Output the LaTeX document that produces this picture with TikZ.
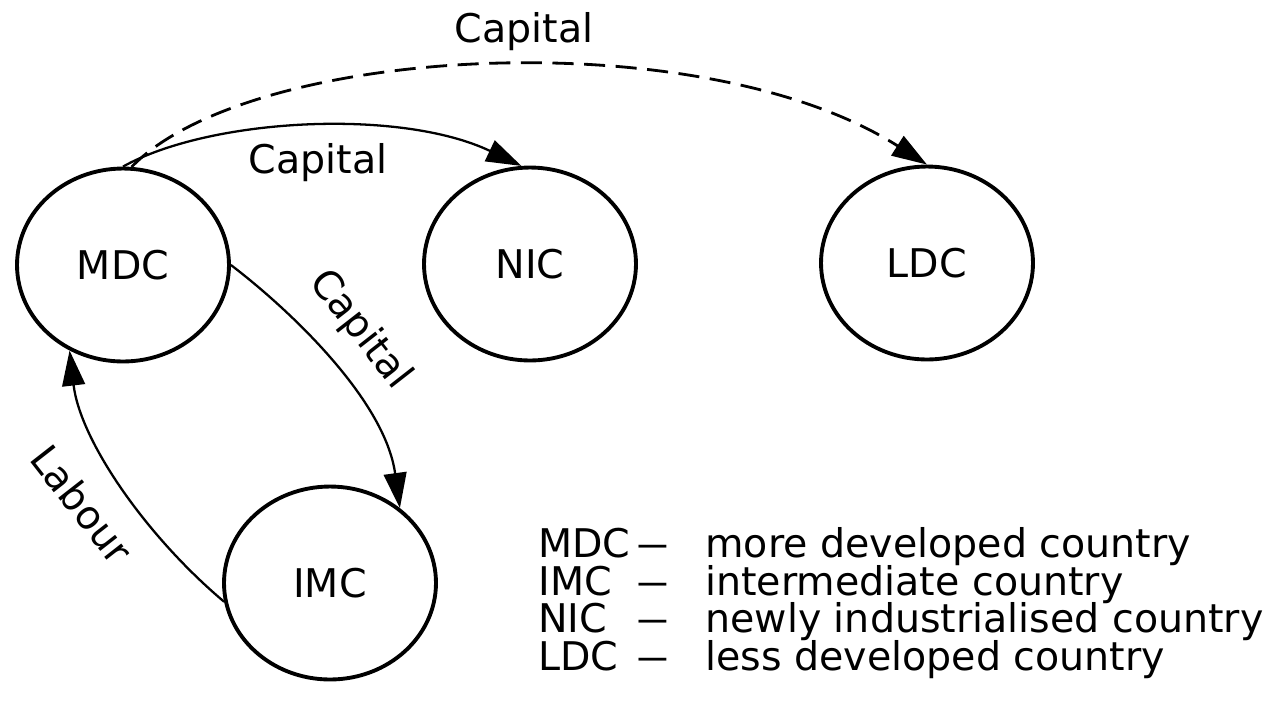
\documentclass[tikz,border=0pt]{standalone}
\usepackage{fontspec}
\usepackage{graphicx}
\setmainfont{DejaVu Sans}
\usetikzlibrary{arrows.meta,shapes.geometric}
\newcommand{\legdash}{\scalebox{0.78}[1]{—}}
\begin{document}
\begin{tikzpicture}[x=0.02cm,y=-0.02cm,
  txt/.style={font=\fontsize{22.5}{27}\selectfont},
  country/.style={ellipse,draw,line width=2.2pt,minimum width=4.24cm,minimum height=3.86cm,inner sep=0pt,txt},
  lbl/.style={txt,inner sep=0pt},
  flow/.style={line width=1.3pt,-{Triangle[length=20pt,width=13pt]}},
  dflow/.style={line width=1.6pt,dash pattern=on 12pt off 6pt,-{Triangle[length=20pt,width=13pt]}}]
\fill[white] (0,0) rectangle (1281,701);
\useasboundingbox (0,0) rectangle (1281,701);

% countries
\node[country] (MDC) at (123,265) {MDC};
\node[country] (NIC) at (530,264) {NIC};
\node[country] (LDC) at (927,263) {LDC};
\node[country] (IMC) at (330,583) {IMC};

% flows
\draw[flow] (MDC.north) .. controls (210,118) and (400,108) .. (NIC.95);
\draw[dflow] (MDC.85) .. controls (250,45) and (700,20) .. (LDC.north);
\draw[flow] (MDC.east) .. controls (290,310) and (385,400) .. (IMC.47);
\draw[flow] (IMC.190) .. controls (145,535) and (80,440) .. (MDC.238);

% labels
\node[lbl,anchor=base] (captop) at (524,42) {Capital};
\node[lbl,anchor=base] (capnic) at (318,173) {Capital};
\node[lbl,rotate=-52] (capimc) at (360,330) {Capital};
\node[lbl,rotate=-52] (labour) at (82,504) {Labour};

% legend
\node[lbl,anchor=base west] (k1) at (538,557) {MDC};
\node[lbl,anchor=base] (d1) at (653,557) {\legdash};
\node[lbl,anchor=base west] (t1) at (705,557) {more developed country};
\node[lbl,anchor=base west] (k2) at (538,595) {IMC};
\node[lbl,anchor=base] (d2) at (653,595) {\legdash};
\node[lbl,anchor=base west] (t2) at (705,595) {intermediate country};
\node[lbl,anchor=base west] (k3) at (538,632) {NIC};
\node[lbl,anchor=base] (d3) at (653,632) {\legdash};
\node[lbl,anchor=base west] (t3) at (705,632) {newly industrialised country};
\node[lbl,anchor=base west] (k4) at (538,670) {LDC};
\node[lbl,anchor=base] (d4) at (653,670) {\legdash};
\node[lbl,anchor=base west] (t4) at (705,670) {less developed country};
\end{tikzpicture}
\end{document}
